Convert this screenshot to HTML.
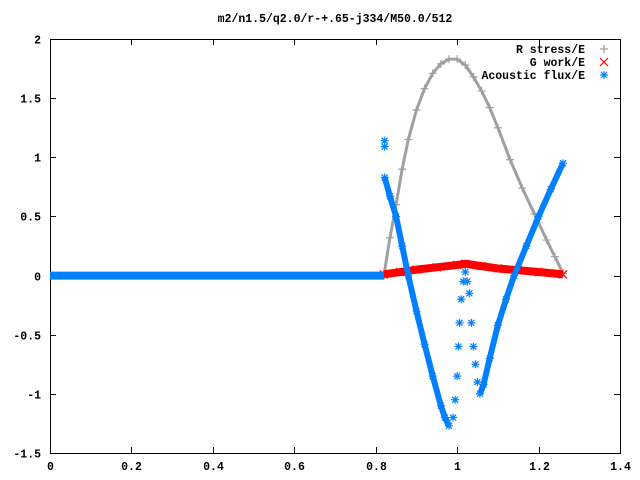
<!DOCTYPE html>
<html><head><meta charset="utf-8"><style>
body{margin:0;background:#fff}
svg{display:block}
text{font-family:"Liberation Mono",monospace;font-weight:bold;font-size:11.5px;fill:#000}
</style></head><body>
<svg id="c" width="640" height="480" viewBox="0 0 640 480">
<text x="335" y="22" text-anchor="middle">m2/n1.5/q2.0/r-+.65-j334/M50.0/512</text>
<rect x="50.5" y="39.5" width="570" height="414" fill="none" stroke="#000"/>
<g id="ticks"></g>
<g id="series"></g>
<g id="legend"></g>
</svg>
<script>
const xTicks=[0,0.2,0.4,0.6,0.8,1,1.2,1.4];
const xTickLabels=["0","0.2","0.4","0.6","0.8","1","1.2","1.4"];
const yTicks=[-1.5,-1,-0.5,0,0.5,1,1.5,2];
const yTickLabels=["-1.5","-1","-0.5","0","0.5","1","1.5","2"];
const rX=[0.82,0.835,0.85,0.865,0.88,0.9,0.92,0.94,0.96,0.98,1.0,1.02,1.04,1.06,1.08,1.1,1.13,1.16,1.19,1.22,1.24,1.26];
const rY=[0,0.32,0.6,0.9,1.15,1.4,1.58,1.71,1.79,1.83,1.83,1.78,1.68,1.56,1.42,1.25,0.98,0.74,0.52,0.3,0.16,0.02];
const gX=[0.82,0.86,0.9,0.95,1.0,1.02,1.06,1.1,1.15,1.2,1.26];
const gY=[0.01,0.03,0.05,0.07,0.09,0.1,0.08,0.06,0.045,0.03,0.01];
const aZeroX=[0,0.82];
const aZeroY=[0,0];
const aB1X=[0.822,0.835,0.85,0.865,0.88,0.9,0.92,0.94,0.96,0.97,0.98];
const aB1Y=[0.83,0.67,0.5,0.25,0.0,-0.3,-0.58,-0.85,-1.1,-1.2,-1.27];
const aB2X=[1.056,1.065,1.08,1.1,1.12,1.14,1.17,1.2,1.23,1.26];
const aB2Y=[-1.0,-0.92,-0.7,-0.42,-0.2,0.0,0.25,0.5,0.73,0.95];
const aScX=[0.822,0.822,0.99,0.995,1.0,1.003,1.006,1.01,1.015,1.02,1.025,1.03,1.035,1.04,1.045,1.05];
const aScY=[1.14,1.09,-1.2,-1.05,-0.85,-0.6,-0.4,-0.2,-0.05,0.03,-0.05,-0.15,-0.4,-0.6,-0.75,-0.9];
const NS="http://www.w3.org/2000/svg";
const X0=50,X1=620,Y0=453,Y1=39;
const sx=v=>X0+(v-0)/1.4*(X1-X0);
const sy=v=>Y0-(v+1.5)/3.5*(Y0-Y1);
function mk(tag,attrs,parent){const e=document.createElementNS(NS,tag);for(const k in attrs)e.setAttribute(k,attrs[k]);parent.appendChild(e);return e;}
const T=document.getElementById('ticks'),S=document.getElementById('series'),L=document.getElementById('legend');
xTicks.forEach((v,i)=>{const x=Math.round(sx(v))+0.5;
 const t=mk('path',{d:`M${x} 453V447M${x} 39V45`,stroke:'#000'},T);
 
 
 const l=mk('text',{x:x,y:470,'text-anchor':'middle'},T);l.textContent=xTickLabels[i];
 
 });
yTicks.forEach((v,i)=>{const y=Math.round(sy(v))+0.5;
 const t=mk('path',{d:`M50 ${y}H56M620 ${y}H614`,stroke:'#000'},T);
 
 
 const l=mk('text',{x:41,y:y+4,'text-anchor':'end'},T);l.textContent=yTickLabels[i];
 
 });
function marker(kind,x,y,col,parent){let d;
 if(kind==='+')d=`M${x-4} ${y}H${x+4}M${x} ${y-4}V${y+4}`;
 else if(kind==='x')d=`M${x-4} ${y-4}L${x+4} ${y+4}M${x-4} ${y+4}L${x+4} ${y-4}`;
 else d=`M${x-4} ${y}H${x+4}M${x} ${y-4}V${y+4}M${x-3} ${y-3}L${x+3} ${y+3}M${x-3} ${y+3}L${x+3} ${y-3}`;
 return mk('path',{d:d,stroke:col,'stroke-width':1.2,fill:'none'},parent);}
function band(xs,ys,col,w,name){const p=mk('polyline',{points:xs.map((v,i)=>sx(v)+','+sy(ys[i])).join(' '),fill:'none',stroke:col,'stroke-width':w,'stroke-linejoin':'round'},S);
 
 }
function pts(xs,ys,kind,col,name){xs.forEach((v,i)=>{const m=marker(kind,sx(v),sy(ys[i]),col,S);
 
 });}
band(rX,rY,'#a0a0a0',3,'r-stress-line');pts(rX,rY,'+','#a0a0a0','r-stress-point');
band(gX,gY,'#ff0000',8,'g-work-line');pts(gX,gY,'x','#ff0000','g-work-point');
band(aZeroX,aZeroY,'#0080ff',8,'acoustic-flux-zero');
band(aB1X,aB1Y,'#0080ff',6,'acoustic-flux-branch1');pts(aB1X,aB1Y,'*','#0080ff','acoustic-flux-point');
band(aB2X,aB2Y,'#0080ff',6,'acoustic-flux-branch2');pts(aB2X,aB2Y,'*','#0080ff','acoustic-flux-point');
pts(aScX,aScY,'*','#0080ff','acoustic-flux-scatter');
const leg=[["R stress/E",'+','#a0a0a0'],["G work/E",'x','#ff0000'],["Acoustic flux/E",'*','#0080ff']];
leg.forEach((e,i)=>{const y=49+i*13;
 const g=mk('g',{},L);
 
 
 const t=mk('text',{x:585,y:y+4,'text-anchor':'end'},g);t.textContent=e[0];
 marker(e[1],604,y,e[2],g);});
</script>
</body></html>
